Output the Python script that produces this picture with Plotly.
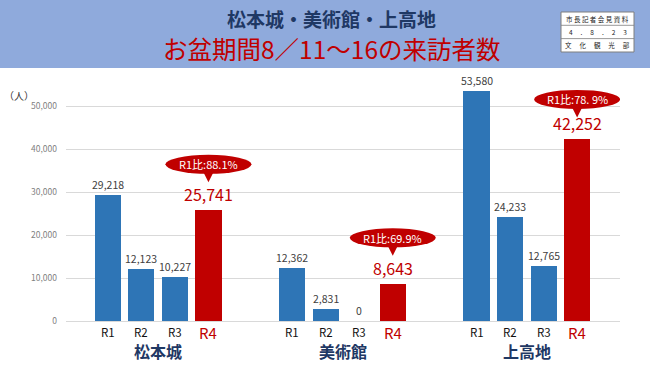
import plotly.graph_objects as go

# ---- data ----
groups = ["松本城", "美術館", "上高地"]
years = ["R1", "R2", "R3", "R4"]
matsumoto = [29218, 12123, 10227, 25741]
bijutsukan = [12362, 2831, 0, 8643]
kamikochi = [53580, 24233, 12765, 42252]
ratios = ["R1比:88.1%", "R1比:69.9%", "R1比:78. 9%"]
y_ticks = [0, 10000, 20000, 30000, 40000, 50000]

series = [matsumoto, bijutsukan, kamikochi]

# ---- layout constants ----
W, H = 650, 365
ML, MR, MT, MB = 66, 30, 76, 44
group_offset = [0, 5.5, 11]
callout_off = [46, 46, 40]
BLUE = "#2E75B6"
RED = "#C00000"
NAVY = "#1F3864"
FONT = "Noto Sans CJK JP"

def py(px):  # pixel y -> paper y
    return 1 - (px - MT) / (H - MT - MB)

def px_(px):  # pixel x -> paper x
    return (px - ML) / (W - ML - MR)

fig = go.Figure()

annotations = []
shapes = []

for gi, (g, vals) in enumerate(zip(groups, series)):
    xs = [group_offset[gi] + i for i in range(len(years))]
    colors = [BLUE, BLUE, BLUE, RED]
    fig.add_trace(go.Bar(x=xs, y=vals, width=0.78, marker=dict(color=colors, line=dict(width=0)),
                         showlegend=False, hoverinfo="skip"))
    for i, (x, v) in enumerate(zip(xs, vals)):
        if i < 3:
            annotations.append(dict(x=x, y=v, text=f"{v:,}", showarrow=False, yanchor="bottom",
                                    yshift=1, font=dict(family=FONT, size=10.5, color="#404040")))
            annotations.append(dict(x=x, y=0, text=years[i], showarrow=False, yanchor="top",
                                    yshift=-1, font=dict(family=FONT, size=11.5, color="#111111")))
        else:
            annotations.append(dict(x=x, y=v, text=f"{v:,}", showarrow=False, yanchor="bottom",
                                    yshift=2, font=dict(family=FONT, size=16, color=RED)))
            annotations.append(dict(x=x, y=0, text=years[i], showarrow=False, yanchor="top",
                                    yshift=1, font=dict(family=FONT, size=15, color=RED)))
            off = callout_off[gi]
            shapes.append(dict(type="circle", xref="x", yref="y", xsizemode="pixel", ysizemode="pixel",
                               xanchor=x, yanchor=v, x0=-43, x1=43, y0=off - 9.5, y1=off + 9.5,
                               fillcolor=RED, line=dict(width=0), layer="above"))
            b = off - 8
            shapes.append(dict(type="path", xref="x", yref="y", xsizemode="pixel", ysizemode="pixel",
                               xanchor=x, yanchor=v,
                               path=f"M -5 {b} L 5 {b} L 0 {off - 18} Z",
                               fillcolor=RED, line=dict(width=0), layer="above"))
            annotations.append(dict(x=x, y=v, text=ratios[gi], showarrow=False, yshift=off,
                                    font=dict(family=FONT, size=11, color="white")))
    annotations.append(dict(x=(xs[0] + xs[-1]) / 2, y=0, text=f"<b>{g}</b>", showarrow=False,
                            yanchor="top", yshift=-16, font=dict(family=FONT, size=16, color=NAVY)))

# header band
shapes.append(dict(type="rect", xref="paper", yref="paper", x0=px_(0), x1=px_(W), y0=py(68), y1=py(0),
                   fillcolor="#8FAADC", line=dict(width=0), layer="below"))
# stamp box
bx0, bx1, by0, by1 = 561, 634, 12, 52
shapes.append(dict(type="rect", xref="paper", yref="paper", x0=px_(bx0), x1=px_(bx1), y0=py(by1), y1=py(by0),
                   fillcolor="white", line=dict(width=1, color="#7F7F7F")))
for yy in (25.3, 38.6):
    shapes.append(dict(type="line", xref="paper", yref="paper", x0=px_(bx0), x1=px_(bx1), y0=py(yy), y1=py(yy),
                       line=dict(width=0.8, color="#7F7F7F")))
stamp_rows = ["市 長 記 者 会 見 資 料", "4　 .　 8　 .　 2　 3", "文　 化　 観　 光　 部"]
for r, t in enumerate(stamp_rows):
    annotations.append(dict(xref="paper", yref="paper", x=px_((bx0 + bx1) / 2), y=py(by0 + 6.6 + r * 13.3),
                            xanchor="center", yanchor="middle",
                            text=t, showarrow=False, font=dict(family=FONT, size=6.5, color="#222222")))

# titles
annotations.append(dict(xref="paper", yref="paper", x=px_(331), y=py(18), xanchor="center", yanchor="middle",
                        text="<b>松本城・美術館・上高地</b>",
                        showarrow=False, font=dict(family=FONT, size=19, color=NAVY)))
annotations.append(dict(xref="paper", yref="paper", x=px_(332), y=py(48.5), xanchor="center", yanchor="middle",
                        text="お盆期間8／11～16の来訪者数",
                        showarrow=False, font=dict(family=FONT, size=24.5, color=RED)))
annotations.append(dict(xref="paper", yref="paper", x=px_(19), y=py(95), xanchor="center", yanchor="middle",
                        text="（人）",
                        showarrow=False, font=dict(family=FONT, size=10, color="#333333")))

fig.update_layout(
    width=W, height=H, margin=dict(l=ML, r=MR, t=MT, b=MB),
    paper_bgcolor="white", plot_bgcolor="white",
    shapes=shapes, annotations=annotations, bargap=0,
    xaxis=dict(range=[-1.25, 15.28], showticklabels=False, showgrid=False, zeroline=False, fixedrange=True),
    yaxis=dict(range=[0, 57000], tickvals=y_ticks, tickformat=",", gridcolor="#D9D9D9", gridwidth=1,
               zeroline=True, zerolinecolor="#D9D9D9", zerolinewidth=1, ticks="", ticklabelstandoff=8,
               tickfont=dict(family=FONT, size=8.5, color="#7F7F7F"), fixedrange=True),
    font=dict(family=FONT),
)

fig.write_html("out.html", config={"displayModeBar": False},
               post_script="document.body.style.margin='0';document.body.style.padding='0';")
